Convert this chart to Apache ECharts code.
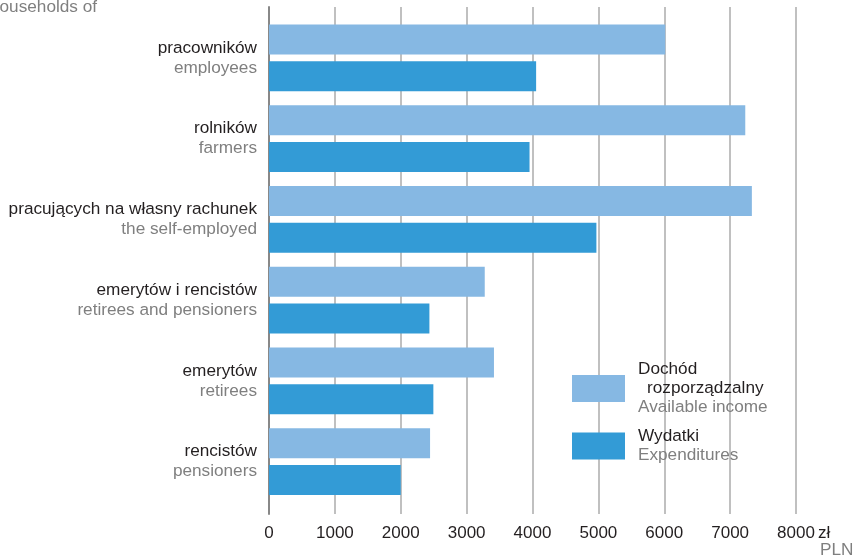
<!DOCTYPE html>
<html>
<head>
<meta charset="utf-8">
<script src="https://cdn.jsdelivr.net/npm/echarts@6/dist/echarts.min.js"></script>
<style>
  html, body { margin: 0; padding: 0; background: #fff; }
  #chart { width: 856px; height: 556px; }
</style>
</head>
<body>
<div id="chart"></div>
<script>
// gospodarstwa domowe - dochód i wydatki na osobę
const categoriesPl = ["pracowników", "rolników", "pracujących na własny rachunek", "emerytów i rencistów", "emerytów", "rencistów"];
const categoriesEn = ["employees", "farmers", "the self-employed", "retirees and pensioners", "retirees", "pensioners"];
const income = [6015, 7230, 7330, 3275, 3415, 2445];
const expenditures = [4055, 3955, 4970, 2435, 2495, 2000];
const xTicks = [0, 1000, 2000, 3000, 4000, 5000, 6000, 7000, 8000];

const FONT = "Liberation Sans, Arial, sans-serif";
const DARK = "#231f20";
const GREY = "#7f7f7f";
const FS = 17.2;

const chart = echarts.init(document.getElementById("chart"));

const option = {
  animation: false,
  textStyle: { fontFamily: FONT },
  grid: [
    // grid lines + tick labels
    { left: 269, right: 60, top: 7, bottom: 42 },
    // bars
    { left: 269, right: 60, top: 17.5, height: 484.5 },
  ],
  xAxis: [
    {
      gridIndex: 0,
      type: "value",
      min: xTicks[0],
      max: xTicks[xTicks.length - 1],
      interval: 1000,
      axisLine: { show: false },
      axisTick: { show: false },
      splitLine: { show: true, lineStyle: { color: "#ababab", width: 1.5 } },
      axisLabel: {
        margin: 11,
        color: DARK,
        fontSize: 17,
        fontFamily: FONT,
        formatter: (v) => (xTicks.includes(v) ? String(v) : ""),
      },
    },
    {
      gridIndex: 1,
      type: "value",
      min: xTicks[0],
      max: xTicks[xTicks.length - 1],
      show: false,
    },
  ],
  yAxis: [
    {
      gridIndex: 0,
      type: "value",
      axisLine: { show: true, lineStyle: { color: "#888", width: 2 } },
      axisTick: { show: false },
      axisLabel: { show: false },
      splitLine: { show: false },
    },
    {
      gridIndex: 1,
      type: "category",
      inverse: true,
      data: categoriesPl,
      axisLine: { show: false },
      axisTick: { show: false },
      axisLabel: {
        margin: 12,
        formatter: (v, i) => `{a|${v}}\n{b|${categoriesEn[i]}}`,
        rich: {
          a: { fontSize: FS, color: DARK, lineHeight: 20, fontFamily: FONT, align: "right" },
          b: { fontSize: FS, color: GREY, lineHeight: 20, fontFamily: FONT, align: "right" },
        },
      },
    },
  ],
  legend: {
    orient: "vertical",
    left: 572,
    top: 361,
    padding: 0,
    itemWidth: 53,
    itemHeight: 27,
    itemGap: 12,
    icon: "rect",
    data: ["Dochód rozporządzalny", "Wydatki"],
    formatter: (name) =>
      name === "Wydatki"
        ? "{a|Wydatki}\n{b|Expenditures}"
        : "{a|Dochód}\n{c|rozporządzalny}\n{b|Available income}",
    textStyle: {
      padding: [0, 0, 0, 8],
      rich: {
        a: { fontSize: FS, color: DARK, lineHeight: 19, fontFamily: FONT },
        c: { fontSize: FS, color: DARK, lineHeight: 19, fontFamily: FONT, padding: [0, 0, 0, 9] },
        b: { fontSize: FS, color: GREY, lineHeight: 19, fontFamily: FONT },
      },
    },
  },
  graphic: [
    {
      type: "text",
      x: -10,
      y: 7,
      style: { text: "households of", fill: GREY, font: `${FS}px ${FONT}`, verticalAlign: "middle" },
    },
    {
      type: "text",
      x: 818,
      y: 533,
      style: { text: "zł", fill: DARK, font: `17px ${FONT}`, verticalAlign: "middle" },
    },
    {
      type: "text",
      x: 820,
      y: 550,
      style: { text: "PLN", fill: GREY, font: `${FS}px ${FONT}`, verticalAlign: "middle" },
    },
  ],
  series: [
    {
      name: "Dochód rozporządzalny",
      type: "bar",
      xAxisIndex: 1,
      yAxisIndex: 1,
      barWidth: 30,
      barGap: "23%",
      itemStyle: { color: "#86b8e3" },
      data: income,
    },
    {
      name: "Wydatki",
      type: "bar",
      xAxisIndex: 1,
      yAxisIndex: 1,
      barWidth: 30,
      itemStyle: { color: "#339bd6" },
      data: expenditures,
    },
  ],
};

chart.setOption(option);
window.addEventListener("resize", () => chart.resize());
</script>
</body>
</html>
